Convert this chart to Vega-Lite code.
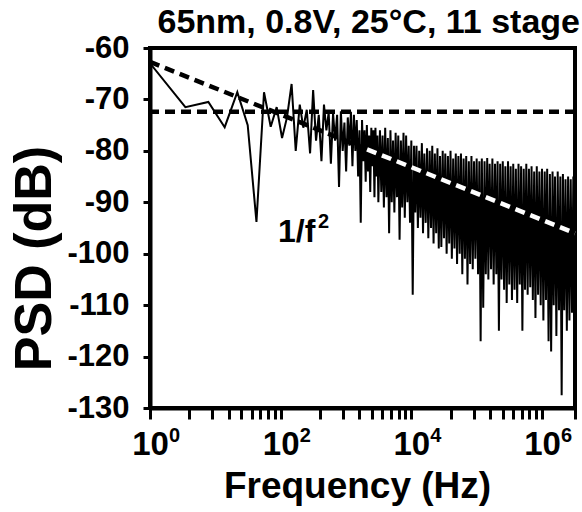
{
"$schema": "https://vega.github.io/schema/vega-lite/v6.json",
"width": 425, "height": 360,
"autosize": {"type": "none"},
"padding": {"left": 150, "top": 48, "right": 7, "bottom": 104},
"background": "white",
"config": {
  "font": "Liberation Sans",
  "view": {"stroke": "black", "strokeWidth": 4},
  "axis": {"domainColor": "black", "domainWidth": 4, "tickColor": "black", "tickWidth": 3, "grid": false,
           "labelColor": "black", "labelFont": "Liberation Sans", "labelFontWeight": "bold",
           "titleFont": "Liberation Sans", "titleFontWeight": "bold", "titleColor": "black"}
},
"title": {"text": "65nm, 0.8V, 25°C, 11 stage", "anchor": "end", "fontSize": 34, "fontWeight": "bold",
          "font": "Liberation Sans", "color": "black", "baseline": "alphabetic", "offset": -35, "dx": -4},
"datasets": {
  "psd": [
    {"f":0.869,"p":-62},{"f":3.48,"p":-71.5},{"f":7.82,"p":-70.5},{"f":13.9,"p":-75.4},{"f":21.7,"p":-68.6},
    {"f":31.3,"p":-75},{"f":42.6,"p":-93.8},{"f":55.6,"p":-68.6},{"f":70.4,"p":-75.3},{"f":86.9,"p":-71.5},
    {"f":105,"p":-77.5},{"f":125,"p":-73.5},{"f":147,"p":-67},{"f":170,"p":-80},{"f":196,"p":-71},
    {"f":222,"p":-75.5},{"f":251,"p":-72},{"f":282,"p":-80.5},{"f":314,"p":-68.2},{"f":348,"p":-78},
    {"f":383,"p":-73},{"f":421,"p":-82},{"f":460,"p":-71},{"f":501,"p":-76},{"f":543,"p":-72.5},
    {"f":587,"p":-82.5},{"f":634,"p":-72.7},{"f":681,"p":-78},{"f":731,"p":-73},{"f":782,"p":-87},
    {"f":835,"p":-72.3},{"f":890,"p":-80},{"f":946,"p":-74.5},{"f":1005,"p":-84},{"f":1065,"p":-73.5},
    {"f":1126,"p":-79},{"f":1190,"p":-72.4},{"f":1255,"p":-83},{"f":1322,"p":-73},{"f":1390,"p":-80},
    {"f":1461,"p":-74},{"f":1533,"p":-85},{"f":1607,"p":-76},{"f":1682,"p":-94},{"f":1760,"p":-74},
    {"f":1839,"p":-82},{"f":1920,"p":-76},{"f":2002,"p":-86},{"f":2086,"p":-75},{"f":2173,"p":-84},
    {"f":2260,"p":-77},{"f":2350,"p":-88},{"f":2441,"p":-75.5},{"f":2534,"p":-83},{"f":2629,"p":-76},
    {"f":2725,"p":-89},{"f":2823,"p":-75.5},{"f":2923,"p":-85},{"f":3025,"p":-77},{"f":3128,"p":-90},
    {"f":3.31e3,"p":-76},{"f":3.47e3,"p":-88},{"f":3.63e3,"p":-77},{"f":3.80e3,"p":-91},{"f":3.98e3,"p":-75.5},
    {"f":4.17e3,"p":-89},{"f":4.37e3,"p":-77.5},{"f":4.57e3,"p":-96},{"f":4.79e3,"p":-76},{"f":5.01e3,"p":-90},
    {"f":5.25e3,"p":-78},{"f":5.50e3,"p":-92},{"f":5.75e3,"p":-76.5},{"f":6.03e3,"p":-89},{"f":6.31e3,"p":-77},
    {"f":6.61e3,"p":-97.3},{"f":6.92e3,"p":-78},{"f":7.24e3,"p":-91},{"f":7.59e3,"p":-76.5},{"f":7.94e3,"p":-93},
    {"f":8.32e3,"p":-77},{"f":8.71e3,"p":-90},{"f":9.12e3,"p":-79},{"f":9.55e3,"p":-94},
    {"f":1.00e4,"p":-78},{"f":1.05e4,"p":-108},{"f":1.10e4,"p":-79},{"f":1.15e4,"p":-92},{"f":1.20e4,"p":-79},
    {"f":1.26e4,"p":-95},{"f":1.32e4,"p":-80},{"f":1.38e4,"p":-93},{"f":1.45e4,"p":-78.5},{"f":1.51e4,"p":-96},
    {"f":1.58e4,"p":-80.5},{"f":1.66e4,"p":-94},{"f":1.74e4,"p":-79.5},{"f":1.82e4,"p":-97},{"f":1.91e4,"p":-80},
    {"f":2.00e4,"p":-95},{"f":2.09e4,"p":-79},{"f":2.19e4,"p":-98},{"f":2.29e4,"p":-80.5},{"f":2.40e4,"p":-96},
    {"f":2.51e4,"p":-79.5},{"f":2.63e4,"p":-99},{"f":2.75e4,"p":-81},{"f":2.88e4,"p":-98.7},{"f":3.02e4,"p":-80},
    {"f":3.16e4,"p":-97},{"f":3.31e4,"p":-80.5},{"f":3.47e4,"p":-100},{"f":3.63e4,"p":-81},{"f":3.80e4,"p":-98},
    {"f":3.98e4,"p":-80},{"f":4.17e4,"p":-101},{"f":4.37e4,"p":-81.5},{"f":4.57e4,"p":-99},{"f":4.79e4,"p":-80.5},
    {"f":5.01e4,"p":-102},{"f":5.25e4,"p":-81},{"f":5.50e4,"p":-100},{"f":5.75e4,"p":-80.5},{"f":6.03e4,"p":-104},
    {"f":6.31e4,"p":-81.5},{"f":6.61e4,"p":-101},{"f":6.92e4,"p":-81},{"f":7.24e4,"p":-106},{"f":7.59e4,"p":-82},
    {"f":7.94e4,"p":-102},{"f":8.32e4,"p":-81},{"f":8.71e4,"p":-103},{"f":9.12e4,"p":-82},{"f":9.55e4,"p":-101},
    {"f":1.00e5,"p":-81.5},{"f":1.05e5,"p":-104},{"f":1.10e5,"p":-82},{"f":1.15e5,"p":-117},{"f":1.20e5,"p":-81.5},
    {"f":1.26e5,"p":-110.5},{"f":1.32e5,"p":-82},{"f":1.38e5,"p":-104},{"f":1.45e5,"p":-81.4},{"f":1.51e5,"p":-105},
    {"f":1.58e5,"p":-82.5},{"f":1.66e5,"p":-103},{"f":1.74e5,"p":-81.5},{"f":1.82e5,"p":-106},{"f":1.91e5,"p":-82.5},
    {"f":2.00e5,"p":-104},{"f":2.09e5,"p":-82},{"f":2.19e5,"p":-115},{"f":2.29e5,"p":-82.5},{"f":2.40e5,"p":-105},
    {"f":2.51e5,"p":-82},{"f":2.63e5,"p":-107},{"f":2.75e5,"p":-83},{"f":2.88e5,"p":-109.6},{"f":3.02e5,"p":-82},
    {"f":3.16e5,"p":-106},{"f":3.31e5,"p":-83},{"f":3.47e5,"p":-109},{"f":3.63e5,"p":-82.5},{"f":3.80e5,"p":-107},
    {"f":3.98e5,"p":-83.5},{"f":4.17e5,"p":-109.6},{"f":4.37e5,"p":-82.5},{"f":4.57e5,"p":-106},{"f":4.79e5,"p":-83},
    {"f":5.01e5,"p":-115},{"f":5.25e5,"p":-83.5},{"f":5.50e5,"p":-107},{"f":5.75e5,"p":-82.5},{"f":6.03e5,"p":-108},
    {"f":6.31e5,"p":-83.5},{"f":6.61e5,"p":-106.5},{"f":6.92e5,"p":-83},{"f":7.24e5,"p":-109},{"f":7.59e5,"p":-84},
    {"f":7.94e5,"p":-112.5},{"f":8.32e5,"p":-83},{"f":8.71e5,"p":-108},{"f":9.12e5,"p":-84},{"f":9.55e5,"p":-110},
    {"f":1.00e6,"p":-83.5},{"f":1.05e6,"p":-113},{"f":1.10e6,"p":-84},{"f":1.15e6,"p":-109},{"f":1.20e6,"p":-83.5},
    {"f":1.26e6,"p":-117},{"f":1.32e6,"p":-84.5},{"f":1.38e6,"p":-119},{"f":1.45e6,"p":-84},{"f":1.51e6,"p":-110},
    {"f":1.58e6,"p":-85},{"f":1.66e6,"p":-116},{"f":1.74e6,"p":-84},{"f":1.82e6,"p":-111},{"f":1.91e6,"p":-85},
    {"f":2.00e6,"p":-127.5},{"f":2.09e6,"p":-84.5},{"f":2.19e6,"p":-111},{"f":2.29e6,"p":-85.5},{"f":2.40e6,"p":-115},
    {"f":2.51e6,"p":-85},{"f":2.63e6,"p":-113},{"f":2.75e6,"p":-85.5},{"f":2.88e6,"p":-111.5},{"f":3.02e6,"p":-85},
    {"f":3.16e6,"p":-107}
  ],
  "flat": [{"p": -72.4}],
  "slope": [
    {"f": 1, "p": -62.7, "s": "a"}, {"f": 2100, "p": -79.7, "s": "a"},
    {"f": 2100, "p": -79.7, "s": "b"}, {"f": 3200000, "p": -96, "s": "b"}
  ],
  "note": [{"f": 91, "p": -97.7, "base": "1/f", "exp": "2"}],
  "exps": [{"f": 1, "e": "0"}, {"f": 100, "e": "2"}, {"f": 10000, "e": "4"}, {"f": 1000000, "e": "6"}]
},
"layer": [
  {
    "data": {"name": "psd"},
    "mark": {"type": "line", "color": "black", "strokeWidth": 2, "clip": true},
    "encoding": {
      "x": {"field": "f", "type": "quantitative",
            "scale": {"type": "log", "domain": [1, 3200000], "nice": false},
            "axis": {"title": "Frequency (Hz)",
                     "values": [1,4,9,16,25,36,49,64,81,100,400,900,1600,2500,3600,4900,6400,8100,10000,40000,90000,160000,250000,360000,490000,640000,810000,1000000,3200000],
                     "labelExpr": "datum.value == 1 || datum.value == 100 || datum.value == 10000 || datum.value == 1000000 ? '10' : ''",
                     "labelFontSize": 33, "labelOverlap": false, "labelFlush": false,
                     "tickSize": 11, "labelPadding": 35, "labelBaseline": "alphabetic",
                     "titleFontSize": 37, "titleX": 207, "titleY": 89, "titleBaseline": "alphabetic"}},
      "y": {"field": "p", "type": "quantitative",
            "scale": {"domain": [-130, -60], "nice": false, "zero": false},
            "axis": {"title": "PSD (dB)", "values": [-130,-120,-110,-100,-90,-80,-70,-60],
                     "labelExpr": "'' + datum.value",
                     "labelFontSize": 31, "tickSize": 7, "labelPadding": 14,
                     "titleFontSize": 52, "titleX": -100, "titleY": 210, "titleBaseline": "alphabetic"}}
    }
  },
  {
    "data": {"name": "flat"},
    "mark": {"type": "rule", "color": "black", "strokeWidth": 4.5, "strokeDash": [10, 6]},
    "encoding": {"y": {"field": "p", "type": "quantitative"}}
  },
  {
    "data": {"name": "slope"},
    "mark": {"type": "line", "strokeWidth": 4.5, "strokeDash": [10, 6]},
    "encoding": {
      "x": {"field": "f", "type": "quantitative"},
      "y": {"field": "p", "type": "quantitative"},
      "color": {"field": "s", "type": "nominal", "scale": {"range": ["black", "white"]}, "legend": null}
    }
  },
  {
    "data": {"name": "note"},
    "mark": {"type": "text", "align": "left", "baseline": "alphabetic", "fontSize": 32, "fontWeight": "bold",
             "font": "Liberation Sans", "color": "black"},
    "encoding": {
      "x": {"field": "f", "type": "quantitative"},
      "y": {"field": "p", "type": "quantitative"},
      "text": {"field": "base"}
    }
  },
  {
    "data": {"name": "note"},
    "mark": {"type": "text", "align": "left", "baseline": "alphabetic", "fontSize": 20, "fontWeight": "bold",
             "font": "Liberation Sans", "color": "black", "dx": 40, "dy": -14},
    "encoding": {
      "x": {"field": "f", "type": "quantitative"},
      "y": {"field": "p", "type": "quantitative"},
      "text": {"field": "exp"}
    }
  },
  {
    "data": {"name": "exps"},
    "mark": {"type": "text", "align": "left", "baseline": "alphabetic", "fontSize": 20, "fontWeight": "bold",
             "font": "Liberation Sans", "color": "black", "dx": 19, "dy": 34},
    "encoding": {
      "x": {"field": "f", "type": "quantitative"},
      "y": {"datum": -130, "type": "quantitative"},
      "text": {"field": "e"}
    }
  }
]
}
